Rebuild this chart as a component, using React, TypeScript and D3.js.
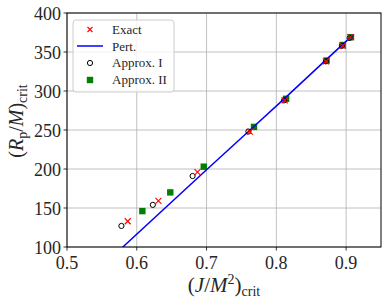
import React from "react";
import * as d3 from "d3";

// values
const exactJ = [0.587, 0.631, 0.687, 0.762, 0.812, 0.871, 0.895, 0.906];
const exactR = [133, 159, 196, 248, 288, 338, 358, 369];

const pertJ = [0.57, 0.58, 0.7, 0.76, 0.81, 0.87, 0.91];
const pertR = [92, 100, 199, 248, 289, 339, 372];

const approx1J = [0.578, 0.623, 0.68, 0.76, 0.811, 0.871, 0.894, 0.905];
const approx1R = [127, 154, 191, 248, 288, 338, 358, 368];

const approx2J = [0.608, 0.648, 0.696, 0.768, 0.814, 0.872, 0.895, 0.907];
const approx2R = [146, 170, 203, 254, 290, 339, 359, 369];

const xTicks = [0.5, 0.6, 0.7, 0.8, 0.9];
const yTicks = [100, 150, 200, 250, 300, 350, 400];
const legendLabels = ["Exact", "Pert.", "Approx. I", "Approx. II"];

const W = 390;
const H = 308;
const margin = { top: 13, right: 9, bottom: 61, left: 67 };
const FONT = "'Liberation Serif', serif";

export default function App() {
  const x = d3.scaleLinear().domain([0.5, 0.95]).range([margin.left, W - margin.right]);
  const y = d3.scaleLinear().domain([100, 400]).range([H - margin.bottom, margin.top]);

  const line = d3
    .line<number>()
    .x((d, i) => x(pertJ[i]))
    .y((d) => y(d));

  const x0 = margin.left;
  const x1 = W - margin.right;
  const y0 = H - margin.bottom;
  const y1 = margin.top;

  const cross = (cx: number, cy: number, s = 3) =>
    `M${cx - s},${cy - s}L${cx + s},${cy + s}M${cx - s},${cy + s}L${cx + s},${cy - s}`;

  return (
    <svg width={W} height={H} style={{ position: "absolute", left: 0, top: 0, background: "#fff" }}>
      <defs>
        <clipPath id="plot">
          <rect x={x0} y={y1} width={x1 - x0} height={y0 - y1} />
        </clipPath>
      </defs>

      {/* grid */}
      {xTicks.map((t) => (
        <line key={"gx" + t} x1={x(t)} x2={x(t)} y1={y1} y2={y0} stroke="#b0b0b0" strokeWidth={0.8} />
      ))}
      {yTicks.map((t) => (
        <line key={"gy" + t} x1={x0} x2={x1} y1={y(t)} y2={y(t)} stroke="#b0b0b0" strokeWidth={0.8} />
      ))}

      <g clipPath="url(#plot)">
        {approx2J.map((j, i) => (
          <rect key={"s" + i} x={x(j) - 3.2} y={y(approx2R[i]) - 3.2} width={6.4} height={6.4} fill="#008000" />
        ))}
        <path d={line(pertR) || ""} fill="none" stroke="#0000ff" strokeWidth={1.5} />
        {approx1J.map((j, i) => (
          <circle key={"c" + i} cx={x(j)} cy={y(approx1R[i])} r={2.6} fill="none" stroke="#000" strokeWidth={1} />
        ))}
        {exactJ.map((j, i) => (
          <path key={"x" + i} d={cross(x(j), y(exactR[i]))} stroke="#ff0000" strokeWidth={1.1} />
        ))}
      </g>

      {/* spines */}
      <rect x={x0} y={y1} width={x1 - x0} height={y0 - y1} fill="none" stroke="#000" strokeWidth={1} />

      {/* ticks */}
      {xTicks.map((t) => (
        <g key={"tx" + t}>
          <line x1={x(t)} x2={x(t)} y1={y0} y2={y0 + 3.5} stroke="#000" strokeWidth={0.8} />
          <text x={x(t)} y={y0 + 22} textAnchor="middle" fontFamily={FONT} fontSize={18} fill="#262626">
            {t.toFixed(1)}
          </text>
        </g>
      ))}
      {yTicks.map((t) => (
        <g key={"ty" + t}>
          <line x1={x0 - 3.5} x2={x0} y1={y(t)} y2={y(t)} stroke="#000" strokeWidth={0.8} />
          <text x={x0 - 6} y={y(t) + 7} textAnchor="end" fontFamily={FONT} fontSize={18} fill="#262626">
            {t}
          </text>
        </g>
      ))}

      {/* axis labels */}
      <text x={(x0 + x1) / 2} y={292} textAnchor="middle" fontFamily={FONT} fontSize={21} fill="#262626">
        (<tspan fontStyle="italic">J</tspan>/<tspan fontStyle="italic">M</tspan>
        <tspan fontSize={14} dy={-8}>2</tspan>
        <tspan dy={8}>)</tspan>
        <tspan fontSize={14} dy={4}>crit</tspan>
      </text>
      <text
        transform={`translate(23,121) rotate(-90)`}
        textAnchor="middle"
        fontFamily={FONT}
        fontSize={20}
        fill="#262626"
      >
        (<tspan fontStyle="italic">R</tspan>
        <tspan fontSize={14} dy={4}>p</tspan>
        <tspan dy={-4}>/</tspan>
        <tspan fontStyle="italic">M</tspan>)
        <tspan fontSize={14} dy={4}>crit</tspan>
      </text>

      {/* legend */}
      <g>
        <rect x={73} y={20} width={101} height={72} rx={3} fill="#fff" fillOpacity={0.8} stroke="#cccccc" strokeWidth={1} />
        <path d={cross(90, 29.5, 2.5)} stroke="#ff0000" strokeWidth={1.1} />
        <line x1={77} x2={103} y1={46} y2={46} stroke="#0000ff" strokeWidth={1.5} />
        <circle cx={90} cy={63} r={2.6} fill="none" stroke="#000" strokeWidth={1} />
        <rect x={86.8} y={76.8} width={6.4} height={6.4} fill="#008000" />
        {legendLabels.map((s, i) => (
          <text key={s} x={112} y={33.7 + i * 16.8} fontFamily={FONT} fontSize={13} fill="#262626">
            {s}
          </text>
        ))}
      </g>
    </svg>
  );
}
